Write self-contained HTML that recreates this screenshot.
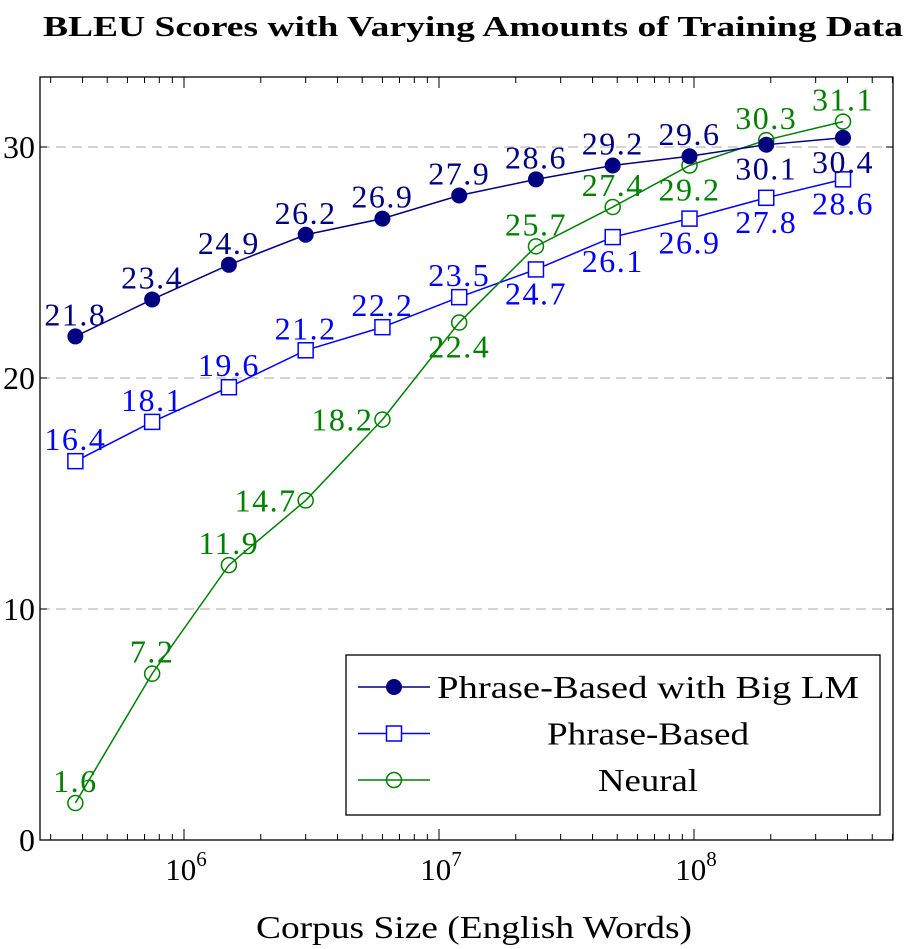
<!DOCTYPE html>
<html><head><meta charset="utf-8"><style>
body{margin:0;background:#fff;}
svg{display:block;font-family:"Liberation Serif",serif;}
</style></head><body>
<svg id="chart" width="908" height="949" viewBox="0 0 908 949">
<text x="473" y="36" text-anchor="middle" font-size="29" font-weight="bold" textLength="860" lengthAdjust="spacingAndGlyphs">BLEU Scores with Varying Amounts of Training Data</text>
<g id="grid"></g>
<g id="axes"></g>
<g id="series"></g>
<text x="474" y="938" text-anchor="middle" font-size="32" textLength="436" lengthAdjust="spacingAndGlyphs">Corpus Size (English Words)</text>
<g id="legend"></g>
</svg>
<script>
const corpusSizes=[0.375e6,0.75e6,1.5e6,3e6,6e6,12e6,24e6,48e6,96e6,192e6,384e6];
const bigLM=[21.8,23.4,24.9,26.2,26.9,27.9,28.6,29.2,29.6,30.1,30.4];
const phrase=[16.4,18.1,19.6,21.2,22.2,23.5,24.7,26.1,26.9,27.8,28.6];
const neural=[1.6,7.2,11.9,14.7,18.2,22.4,25.7,27.4,29.2,30.3,31.1];
const yTicks=[0,10,20,30];
const xTickExps=[6,7,8];
const seriesNames=["Phrase-Based with Big LM","Phrase-Based","Neural"];
const bigLMPos=["a","a","a","a","a","a","a","a","a","b","b"];
const phrasePos=["a","a","a","a","a","a","b","b","b","b","b"];
const neuralPos=["a","a","a","l","l","b","a","a","b","a","a"];

const NS="http://www.w3.org/2000/svg";
const L=40,R=893,T=77,B=840;
const X=v=>184+(Math.log10(v)-6)*255;
const Y=v=>B-v*23.1;
function mk(t,a,p){const e=document.createElementNS(NS,t);for(const k in a)e.setAttribute(k,a[k]);p.appendChild(e);return e;}
const grid=document.getElementById('grid'),axes=document.getElementById('axes'),ser=document.getElementById('series'),leg=document.getElementById('legend');
yTicks.forEach(t=>{
 if(t>0){const g=mk('line',{x1:L,x2:R,y1:Y(t),y2:Y(t),stroke:'#bbb','stroke-dasharray':'10,6','stroke-width':1.3},grid);
 }
 mk('line',{x1:L,x2:L+7,y1:Y(t),y2:Y(t),stroke:'#000'},axes);
 mk('line',{x1:R,x2:R-7,y1:Y(t),y2:Y(t),stroke:'#000'},axes);
 const tx=mk('text',{x:L-5,y:Y(t)+11,'text-anchor':'end','font-size':32},axes);tx.textContent=t;
 
});
const fr=mk('rect',{x:L,y:T,width:R-L,height:B-T,fill:'none',stroke:'#000','stroke-width':1.3},axes);

for(let e=5;e<=8;e++)for(let m=1;m<10;m++){
 const v=m*Math.pow(10,e),x=X(v);if(x<L||x>R)continue;
 const len=m===1?11:6;
 mk('line',{x1:x,x2:x,y1:B,y2:B-len,stroke:'#000'},axes);
 mk('line',{x1:x,x2:x,y1:T,y2:T+len,stroke:'#000'},axes);
}
xTickExps.forEach(e=>{
 const tx=mk('text',{x:X(Math.pow(10,e))+2,y:B+40,'text-anchor':'middle','font-size':31},axes);
 
 tx.textContent='10';const s=mk('tspan',{'font-size':21,dy:-14},tx);s.textContent=e;
});
function marker(kind,x,y,c,p){
 if(kind==='dot')return mk('circle',{cx:x,cy:y,r:7.5,fill:c,stroke:c},p);
 if(kind==='sq')return mk('rect',{x:x-7.5,y:y-7.5,width:15,height:15,fill:'#fff',stroke:c,'stroke-width':1.5},p);
 return mk('circle',{cx:x,cy:y,r:7.5,fill:'none',stroke:c,'stroke-width':1.5},p);
}
function draw(vals,pos,color,kind,name){
 const g=mk('g',{},ser);
 mk('polyline',{points:vals.map((v,i)=>X(corpusSizes[i])+','+Y(v)).join(' '),fill:'none',stroke:color,'stroke-width':1.5},g);
 vals.forEach((v,i)=>{
  const x=X(corpusSizes[i]),y=Y(v);
  const m=marker(kind,x,y,color,g);
  let tx=x,ty=y-11,a='middle';
  if(pos[i]==='b'){ty=y+35;}
  if(pos[i]==='l'){tx=x-9;ty=y+11;a='end';}
  const t=mk('text',{x:tx,y:ty,'text-anchor':a,'font-size':32,fill:color,'letter-spacing':1.5},g);t.textContent=v.toFixed(1);
  
 });
}
draw(phrase,phrasePos,'#0000ff','sq','phrase-based');
draw(neural,neuralPos,'#008000','circ','neural');
draw(bigLM,bigLMPos,'#000080','dot','big-lm');
const lb=mk('rect',{x:346,y:655,width:534,height:160,fill:'#fff',stroke:'#000','stroke-width':1.3},leg);

const lc=['#000080','#0000ff','#008000'],lk=['dot','sq','circ'];
const lw=[422,202,100];
seriesNames.forEach((n,i)=>{
 const y=687+i*46.5;
 const g=mk('g',{},leg);
 mk('line',{x1:358,x2:430,y1:y,y2:y,stroke:lc[i],'stroke-width':1.5},g);
 marker(lk[i],394,y,lc[i],g);
 const t=mk('text',{x:648,y:y+11,'text-anchor':'middle','font-size':32,textLength:lw[i],lengthAdjust:'spacingAndGlyphs'},g);t.textContent=n;
});
</script>
</body></html>
